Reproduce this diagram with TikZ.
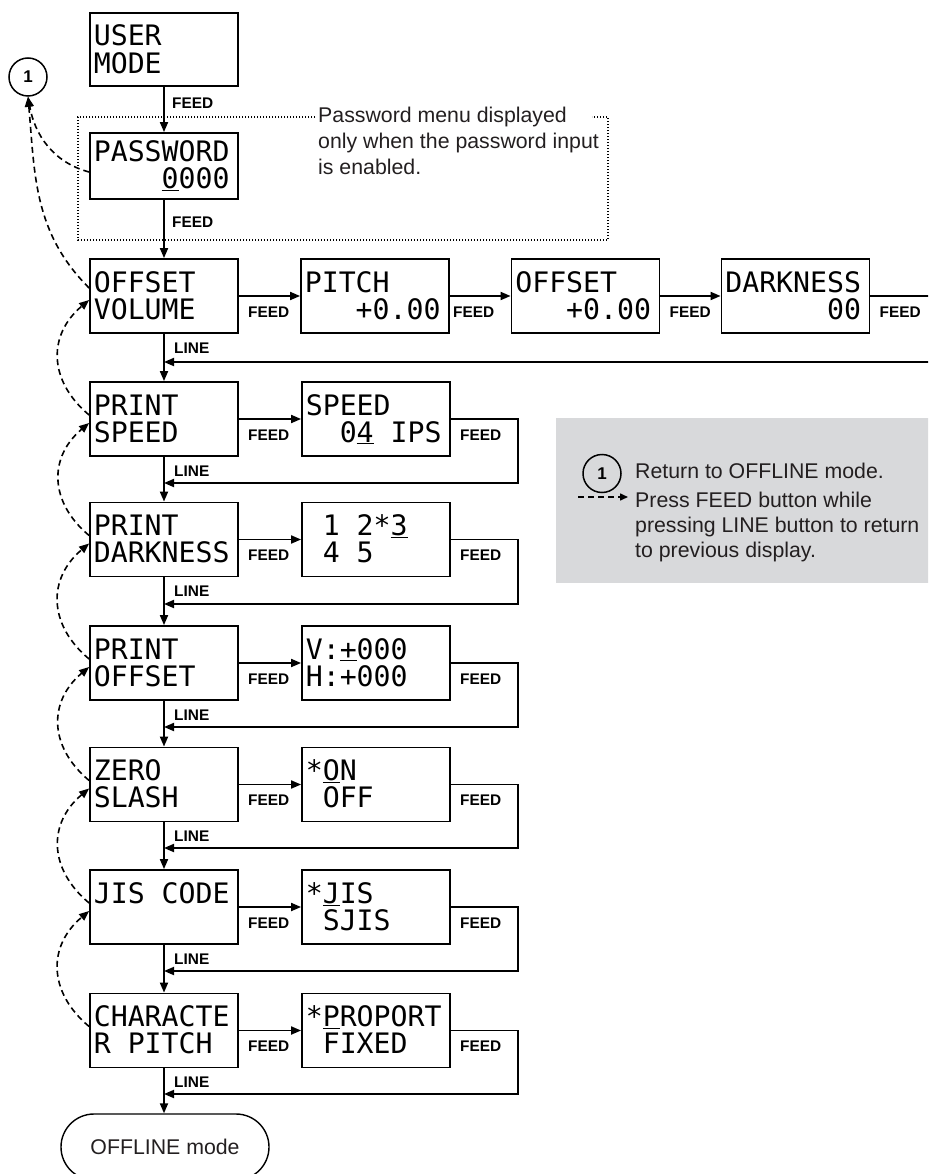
\documentclass[tikz,border=0pt]{standalone}
\usepackage{fontspec}
\setmainfont{Liberation Sans}
\newfontfamily\lcdf{DejaVu Sans Mono}
\usetikzlibrary{arrows.meta}
\definecolor{legbg}{RGB}{216,217,219}
\definecolor{ink}{RGB}{35,31,32}
\newcommand\lcdsize{\lcdf\fontsize{28.2}{30}\selectfont}
\newcommand\pad[1]{\hphantom{#1}}
\newcommand\lcd[5]{%
  \node[lcdbox] (#1) at (#2,#3) {};
  \node[lcdtxt] (#1-a) at ([xshift=4.5pt,yshift=-34pt]#1.north west) {#4};
  \node[lcdtxt] (#1-b) at ([xshift=4.5pt,yshift=-61pt]#1.north west) {#5};
}
\begin{document}
\begin{tikzpicture}[x=1pt,y=-1pt,
  lcdbox/.style={draw, line width=1.8pt, minimum width=148pt, minimum height=74pt, inner sep=0pt},
  lcdtxt/.style={anchor=base west, inner sep=0pt, font=\lcdsize},
  arr/.style={line width=1.8pt, -{Triangle[length=10pt,width=8pt]}},
  dsh/.style={line width=1.6pt, dash pattern=on 6pt off 4pt, -{Triangle[length=10pt,width=8pt]}},
  btn/.style={inner sep=0pt, font=\bfseries\fontsize{15.4}{17}\selectfont},
  note/.style={anchor=base west, inner sep=0pt, text=ink, font=\fontsize{21.3}{25}\selectfont},
  dotline/.style={line width=1.3pt, dash pattern=on 1.3pt off 1.7pt},
  numc/.style={circle, draw, line width=1.5pt, minimum size=38pt, inner sep=0pt, font=\bfseries\fontsize{17}{19}\selectfont}
]
\useasboundingbox (0,0) rectangle (928,1174);
\clip (0,0) rectangle (928,1174);

% legend background
\node[fill=legbg, anchor=north west, minimum width=380pt, minimum height=165pt, inner sep=0pt] (lg) at (556,418) {};

% top boxes
\node[lcdbox, minimum height=73pt] (UM) at (164,49.5) {};
\node[lcdtxt] (UM-a) at ([xshift=4.5pt,yshift=-33pt]UM.north west) {USER};
\node[lcdtxt] (UM-b) at ([xshift=4.5pt,yshift=-61pt]UM.north west) {MODE};
\node[lcdbox, minimum height=66pt] (PW) at (164,166) {};
\node[lcdtxt] (PW-a) at ([xshift=4.5pt,yshift=-29pt]PW.north west) {PASSWORD};
\node[lcdtxt] (PW-b) at ([xshift=4.5pt,yshift=-56pt]PW.north west) {\pad{0000}\underline{0}000};

% dotted note frame
\draw[dotline] (315,117) -- (78,117) -- (78,240) -- (608,240) -- (608,117) -- (592,117);
\node[note] (n1) at (318,123) {Password menu displayed};
\node[note] (n2) at (318,149) {only when the password input};
\node[note] (n3) at (318,175) {is enabled.};

% left column
\lcd{OV}{164}{296}{OFFSET}{VOLUME}
\lcd{PS}{164}{419}{PRINT}{SPEED}
\lcd{PD}{164}{539.5}{PRINT}{DARKNESS}
\lcd{PO}{164}{663}{PRINT}{OFFSET}
\lcd{ZS}{164}{784.5}{ZERO}{SLASH}
\lcd{JC}{164}{907}{JIS CODE}{}
\lcd{CP}{164}{1030.5}{CHARACTE}{R PITCH}

% right boxes
\lcd{PI}{375}{296}{PITCH}{\pad{000}+0.00}
\lcd{OF}{585.5}{296}{OFFSET}{\pad{000}+0.00}
\lcd{DK}{795.5}{296}{DARKNESS}{\pad{000000}00}
\lcd{SP}{376}{419}{SPEED}{\pad{00}0\underline{4} IPS}
\lcd{DV}{376}{539.5}{\pad{0}1\pad{0}2*\underline{3}}{\pad{0}4\pad{0}5}
\lcd{OS}{376}{663}{V:\underline{+}000}{H:+000}
\lcd{ZV}{376}{784.5}{*\underline{O}N}{\pad{0}OFF}
\lcd{JV}{376}{907}{*\underline{J}IS}{\pad{0}SJIS}
\lcd{CV}{376}{1030.5}{*\underline{P}ROPORT}{\pad{0}FIXED}

% terminal
\node[draw, line width=1.4pt, rounded corners=33pt, minimum width=208pt, minimum height=66pt, inner sep=0pt, text=ink, font=\fontsize{21.3}{25}\selectfont] (OFF) at (165,1147) {OFFLINE mode};

% circle 1
\node[numc] (C1) at (28,77) {1};

% vertical flow
\draw[arr] (UM.south) -- (PW.north);
\draw[arr] (PW.south) -- (OV.north);
\draw[arr] (OV.south) -- (PS.north);
\draw[arr] (PS.south) -- (PD.north);
\draw[arr] (PD.south) -- (PO.north);
\draw[arr] (PO.south) -- (ZS.north);
\draw[arr] (ZS.south) -- (JC.north);
\draw[arr] (JC.south) -- (CP.north);
\draw[arr] (CP.south) -- (CP.south |- OFF.north);

\node[btn, anchor=west] (f0) at (172,103) {FEED};
\node[btn, anchor=west] (f00) at (172,222) {FEED};

% row 1
\draw[arr] (OV.east) -- (PI.west);
\draw[arr] (PI.east) -- (OF.west);
\draw[arr] (OF.east) -- (DK.west);
\coordinate (r1) at (945,362);
\draw[arr] (DK.east) -| (r1) -- (r1 -| OV.south);
\node[btn, anchor=west] (f1) at ([xshift=9pt,yshift=-16pt]OV.east) {FEED};
\node[btn, anchor=west] (f2) at ([xshift=3pt,yshift=-16pt]PI.east) {FEED};
\node[btn, anchor=west] (f3) at ([xshift=9pt,yshift=-16pt]OF.east) {FEED};
\node[btn, anchor=west] (f4) at ([xshift=9pt,yshift=-16pt]DK.east) {FEED};
\node[btn, anchor=west] (l1) at ([xshift=10pt,yshift=-14pt]OV.south) {LINE};

% rows 2-7
\foreach \L/\R/\y in {PS/SP/483, PD/DV/604, PO/OS/727, ZS/ZV/848, JC/JV/971, CP/CV/1094}{
  \draw[arr] (\L.east) -- (\R.west);
  \coordinate (r-\L) at (518,\y);
  \draw[arr] (\R.east) -| (r-\L) -- (r-\L -| \L.south);
  \node[btn, anchor=west] (fa-\L) at ([xshift=9pt,yshift=-16pt]\L.east) {FEED};
  \node[btn, anchor=west] (fb-\L) at ([xshift=9pt,yshift=-16pt]\R.east) {FEED};
  \node[btn, anchor=west] (ln-\L) at ([xshift=10pt,yshift=-14pt]\L.south) {LINE};
}

% dashed return arcs
\draw[dsh] ([yshift=-6pt]PW.west) to[out=165,in=-80] (C1.south);
\draw[dsh] ([yshift=8pt]OV.west) to[out=135,in=-85] (C1.south);
\draw[dsh] ([yshift=4pt]PS.west) to[out=140,in=220,looseness=1.2] ([yshift=-4pt]OV.west);
\draw[dsh] ([yshift=4pt]PD.west) to[out=140,in=220,looseness=1.2] ([yshift=-4pt]PS.west);
\draw[dsh] ([yshift=4pt]PO.west) to[out=140,in=220,looseness=1.2] ([yshift=-4pt]PD.west);
\draw[dsh] ([yshift=4pt]ZS.west) to[out=140,in=220,looseness=1.2] ([yshift=-4pt]PO.west);
\draw[dsh] ([yshift=4pt]JC.west) to[out=140,in=220,looseness=1.2] ([yshift=-4pt]ZS.west);
\draw[dsh] ([yshift=4pt]CP.west) to[out=140,in=220,looseness=1.2] ([yshift=-4pt]JC.west);

% legend
\node[numc] (C2) at (602,473.5) {1};
\node[note] (g1) at (635,478) {Return to OFFLINE mode.};
\coordinate (da) at (578,497);
\coordinate (db) at (628,497);
\draw[line width=1.5pt, dash pattern=on 6pt off 4pt, -{Triangle[length=8pt,width=7pt]}] (da) -- (db);
\node[note] (g2) at (635,507) {Press FEED button while};
\node[note] (g3) at (635,532) {pressing LINE button to return};
\node[note] (g4) at (635,557) {to previous display.};
\end{tikzpicture}
\end{document}
